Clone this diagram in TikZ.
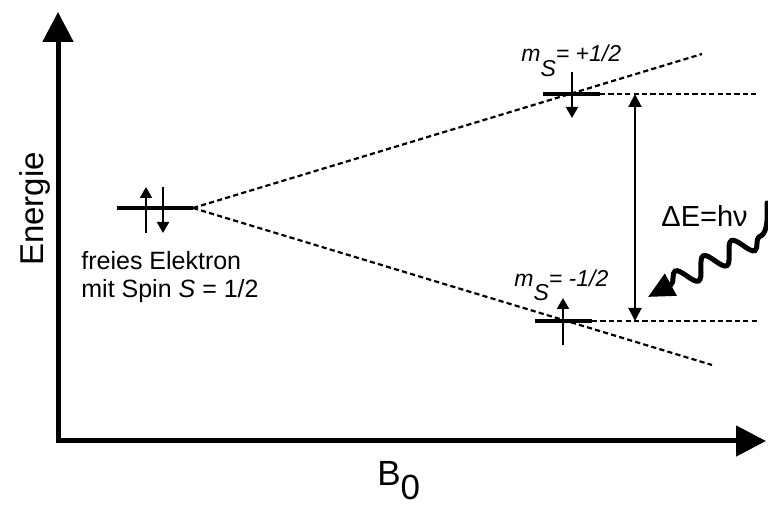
\documentclass[tikz,border=0pt]{standalone}
\usepackage{fontspec}
\setmainfont{Liberation Sans}
\usetikzlibrary{arrows.meta,decorations.pathmorphing}
\begin{document}
\begin{tikzpicture}[x=0.5pt,y=-0.5pt,
  axisline/.style={line width=2.5pt,line join=miter,{Triangle[length=15pt,width=15pt]}-{Triangle[length=15pt,width=15pt]}},
  levelline/.style={line width=1.6pt},
  dline/.style={line width=1.1pt,dash pattern=on 2.6pt off 1.6pt},
  spinarrow/.style={line width=1pt,-{Triangle[length=5.5pt,width=6pt]}},
  gaparrow/.style={line width=1pt,{Triangle[length=6.5pt,width=6.5pt]}-{Triangle[length=6.5pt,width=6.5pt]}},
  wave/.style={line width=2.5pt,line cap=round},
  mlabel/.style={anchor=base west,inner sep=0pt,font=\fontsize{11.5}{13}\selectfont\itshape},
]
\useasboundingbox (0,0) rectangle (768,507);
% axes
\coordinate (ytop) at (58,12);
\coordinate (O) at (58,441);
\coordinate (xend) at (766,441);
\draw[axisline] (ytop) -- (O) -- (xend);
\node[rotate=90,anchor=base,inner sep=0pt,font=\fontsize{16.5}{18}\selectfont] (en) at (43,209) {Energie};
\node[anchor=base west,font=\fontsize{17.5}{19}\selectfont,inner sep=0pt] (b0) at (377,486) {B\raisebox{-7pt}{0}};
% free electron level
\coordinate (Fl) at (117,208);
\coordinate (F) at (193,208);
\draw[levelline] (Fl) -- (F);
\coordinate (fu1) at (146,233); \coordinate (fu2) at (146,187);
\coordinate (fd1) at (163,187); \coordinate (fd2) at (163,233);
\draw[spinarrow] (fu1) -- (fu2);
\draw[spinarrow] (fd1) -- (fd2);
\node[anchor=base west,align=left,inner sep=0pt,font=\fontsize{12.5}{14}\selectfont] (fe) at (81,298) {freies Elektron\\mit Spin \textit{S} = 1/2};
% splitting lines
\coordinate (Uend) at (702,54);
\coordinate (Lend) at (712,365);
\draw[dline] (F) -- (Uend);
\draw[dline] (F) -- (Lend);
% upper level
\coordinate (Ul) at (543,94);
\coordinate (U) at (600,94);
\coordinate (Ur) at (756,94);
\draw[levelline] (Ul) -- (U);
\draw[dline] (U) -- (Ur);
\coordinate (ud1) at (572,72); \coordinate (ud2) at (572,118);
\draw[spinarrow] (ud1) -- (ud2);
\node[mlabel] (mu) at (521,62) {m\raisebox{-7.5pt}{S}= +1/2};
% lower level
\coordinate (Ll) at (535,321);
\coordinate (L) at (592,321);
\coordinate (Lr) at (758,321);
\draw[levelline] (Ll) -- (L);
\draw[dline] (L) -- (Lr);
\coordinate (lu1) at (563,345); \coordinate (lu2) at (563,298);
\draw[spinarrow] (lu1) -- (lu2);
\node[mlabel] (ml) at (514,287) {m\raisebox{-7pt}{S}= -1/2};
% gap arrow
\coordinate (g1) at (635,94);
\coordinate (g2) at (635,321);
\draw[gaparrow] (g1) -- (g2);
\node[anchor=base west,inner sep=0pt,font=\fontsize{14.5}{16}\selectfont] (de) at (661,227) {ΔE=hν};
% photon
\coordinate (w0) at (767,203);
\coordinate (w1) at (759,237);
\coordinate (w2) at (648,297);
\draw[wave] (w0) .. controls (768,226) and (766,234) .. (w1);
\draw[wave,decorate,decoration={snake,amplitude=5pt,segment length=16pt,pre length=0pt,post length=12pt},-{Triangle[length=13pt,width=12pt]}] (w1) -- (w2);
\end{tikzpicture}
\end{document}
